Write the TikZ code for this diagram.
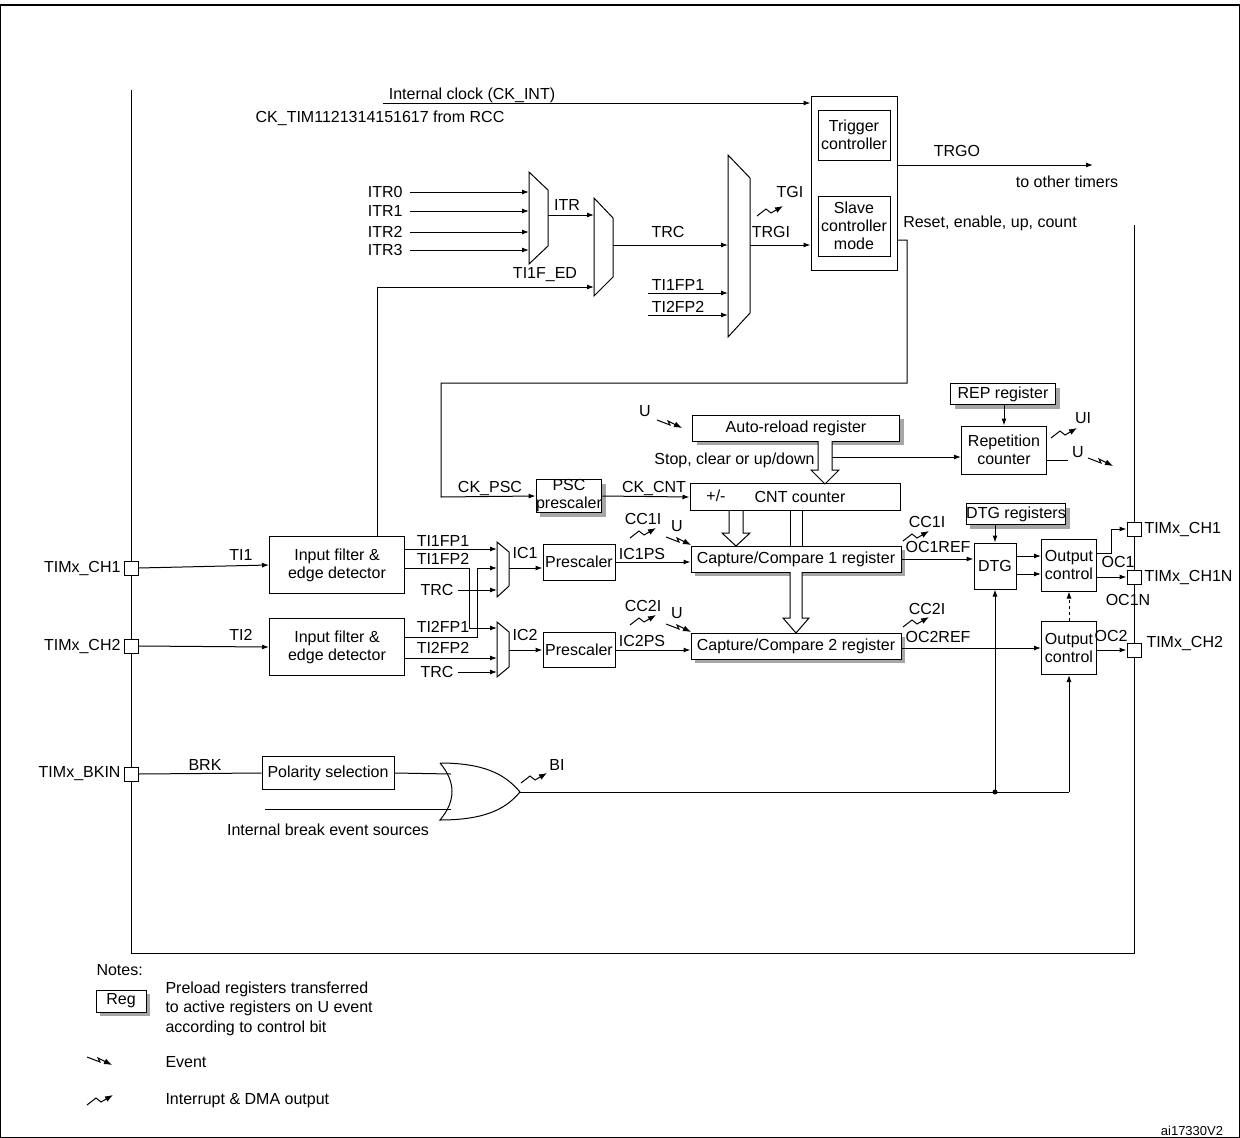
\documentclass[tikz,border=0pt]{standalone}
\usepackage{fontspec}
\setmainfont{Liberation Sans}
\usetikzlibrary{arrows.meta,shadows}
\begin{document}
\begin{tikzpicture}[x=1pt,y=-1pt,line width=1pt,
  font=\fontsize{16}{18}\selectfont,
  >={Latex[length=7pt,width=5pt]},
  box/.style 2 args={draw,fill=white,align=center,inner sep=0pt,minimum width=#1,minimum height=#2},
  reg/.style 2 args={box={#1}{#2},drop shadow={shadow xshift=4pt,shadow yshift=-4pt,fill=black!35,opacity=1}},
  pin/.style={draw,fill=white,minimum size=14pt,inner sep=0pt},
  lbl/.style={inner sep=0pt},
  evt/.pic={\draw[-{Latex[length=8pt,width=6pt]}] (0,0) -- (13,5) -- (11,1) -- (25,8);},
  irq/.pic={\draw[-{Latex[length=8pt,width=6pt]}] (0,0) -- (9,-7) -- (14,-3) -- (26,-10);},
  hollow/.style={draw,fill=white,line width=1pt}]
\useasboundingbox (0,0) rectangle (1240,1138);
\draw[line width=2pt] (0,5) -- (1240,5);
\draw (0.5,5) -- (0.5,1137.5) -- (1239.5,1137.5) -- (1239.5,5);
% main frame
\draw (131,90) -- (131,953) -- (1134,953) -- (1134,225);
% boxes
\node[box={86}{174}] (ts) at (854,183) {};
\node[box={72}{50}] (trig) at (854,135) {Trigger\\controller};
\node[box={72}{60}] (slave) at (854,226) {Slave\\controller\\mode};
\node[reg={207}{26}] (arr) at (796,428) {Auto-reload register};
\node[reg={105}{21}] (rep) at (1003,394) {REP register};
\node[box={85}{48}] (repc) at (1004,450) {Repetition\\counter};
\node[reg={64}{33}] (psc) at (569,496) {PSC\\prescaler};
\node[box={210}{27}] (cnt) at (795,497) {};
\node[lbl] at (716,496) {+/-};
\node[lbl] at (800,497) {CNT counter};
\node[reg={210}{26}] (cc1) at (796,559) {Capture/Compare 1 register};
\node[reg={210}{26}] (cc2) at (796,646) {Capture/Compare 2 register};
\node[box={72}{36}] (pre1) at (579,562) {Prescaler};
\node[box={72}{35}] (pre2) at (579,650) {Prescaler};
\node[box={135}{57}] (f1) at (337,565) {Input filter \&\\edge detector};
\node[box={135}{57}] (f2) at (337,647) {Input filter \&\\edge detector};
\node[box={132}{33}] (pol) at (328,773) {Polarity selection};
\node[reg={90}{21}] (dtgr) at (1016,514) {DTG registers};
\node[box={42}{46}] (dtg) at (995,566) {DTG};
\node[box={55}{52}] (oc1) at (1069,565) {Output\\control};
\node[box={55}{53}] (oc2) at (1069,648) {Output\\control};
% pins
\node[pin] (ch1) at (131,568) {};
\node[pin] (ch2) at (131,646) {};
\node[pin] (bkin) at (131,774) {};
\node[pin] (och1) at (1134,529) {};
\node[pin] (och1n) at (1134,577) {};
\node[pin] (och2) at (1134,650) {};
\node[lbl,anchor=east] at (121,568) {TIMx\_CH1};
\node[lbl,anchor=east] at (121,646) {TIMx\_CH2};
\node[lbl,anchor=east] at (121,774) {TIMx\_BKIN};
\node[lbl,anchor=west] at (1144,529) {TIMx\_CH1};
\node[lbl,anchor=west] at (1144,577) {TIMx\_CH1N};
\node[lbl,anchor=west] at (1146,643) {TIMx\_CH2};
% muxes
\draw (529,172) -- (548,190) -- (548,246) -- (529,264) -- cycle;
\draw (594,198) -- (613,218) -- (613,277) -- (594,296) -- cycle;
\draw (728,155) -- (750,178) -- (750,313) -- (728,337) -- cycle;
\draw (497,542) -- (509,552) -- (509,586) -- (497,597) -- cycle;
\draw (497,622) -- (509,632) -- (509,667) -- (497,677) -- cycle;
% top clock
\coordinate (ckL) at (383,103);
\draw[->] (ckL) -- (ckL -| ts.west);
\node[lbl] at (472,95) {Internal clock (CK\_INT)};
\node[lbl] at (380,118) {CK\_TIM1121314151617 from RCC};
\coordinate (trgoE) at (1093,165);
\draw[->] (trgoE -| ts.east) -- (trgoE);
\node[lbl] at (957,151) {TRGO};
\node[lbl] at (1067,182) {to other timers};
\node[lbl] at (990,223) {Reset, enable, up, count};
% ITR
\foreach \i/\y in {0/192,1/211,2/232,3/250}{
  \node[lbl,anchor=east] (itr\i) at (403,\y) {ITR\i};
  \draw[->] (410,\y) -- (529,\y);
}
\draw[->] (548,215) -- (594,215);
\node[lbl] at (567,205) {ITR};
\draw[->] (613,245) -- (728,245);
\node[lbl] at (668,232) {TRC};
\draw[->] (377,537) -- (377,287) -- (594,287);
\node[lbl] at (545,275) {TI1F\_ED};
\draw[->] (648,293) -- (728,293);
\draw[->] (648,315) -- (728,315);
\node[lbl] at (678,285) {TI1FP1};
\node[lbl] at (678,307) {TI2FP2};
\draw[->] (750,245) -- (ts.west |- 0,245);
\node[lbl] at (771,232) {TRGI};
\pic at (757,216) {irq};
\node[lbl] at (790,192) {TGI};
% slave to prescaler
\draw[->] (897,240) -- (907,240) -- (907,383) -- (441,383) -- (441,497) -- (psc.west);
\node[lbl] at (490,488) {CK\_PSC};
\draw[->] (psc.east) -- (cnt.west);
\node[lbl] at (654,488) {CK\_CNT};
% ARR
\node[lbl] at (645,411) {U};
\pic at (657,420) {evt};
\draw[hollow] (818,441) -- (818,470) -- (811,470) -- (825,484) -- (839,470) -- (832,470) -- (832,441);
\node[lbl,anchor=east] at (815,460) {Stop, clear or up/down};
\draw[->] (832,457) -- (repc.west |- 0,457);
\draw[->] (rep.south -| repc.north) -- (repc.north);
\pic at (1051,438) {irq};
\node[lbl] at (1083,418) {UI};
\draw (repc.east |- 0,460) -- (1068,460);
\node[lbl] at (1078,452) {U};
\pic at (1088,458) {evt};
% CNT to CC
\draw[hollow] (729,511) -- (729,533) -- (722,533) -- (736,546) -- (750,533) -- (743,533) -- (743,511);
\draw (790,511) -- (790,546) (802,511) -- (802,546);
\draw[hollow] (790,572) -- (790,618) -- (783,618) -- (796,633) -- (809,618) -- (802,618) -- (802,572);
% inputs
\draw[->] (ch1.east) -- (f1.west);
\node[lbl] at (241,555) {TI1};
\draw[->] (ch2.east) -- (f2.west);
\node[lbl] at (241,635) {TI2};
\draw[->] (f1.east |- 0,549) -- (497,549);
\draw[->] (f1.east |- 0,568) -- (469,568) -- (469,628) -- (497,628);
\draw[->] (f2.east |- 0,637) -- (477,637) -- (477,568) -- (497,568);
\draw[->] (f2.east |- 0,658) -- (497,658);
\draw[->] (458,590) -- (497,590);
\draw[->] (458,672) -- (497,672);
\node[lbl] at (443,541) {TI1FP1};
\node[lbl] at (443,559) {TI1FP2};
\node[lbl] at (437,590) {TRC};
\node[lbl] at (443,627) {TI2FP1};
\node[lbl] at (443,648) {TI2FP2};
\node[lbl] at (437,672) {TRC};
\draw[->] (509,568) -- (pre1.west |- 0,568);
\node[lbl] at (525,553) {IC1};
\draw[->] (509,650) -- (pre2.west);
\node[lbl] at (525,635) {IC2};
\draw[->] (pre1.east) -- (cc1.west |- pre1.east);
\node[lbl] at (642,554) {IC1PS};
\draw[->] (pre2.east) -- (cc2.west |- pre2.east);
\node[lbl] at (642,641) {IC2PS};
\pic at (630,538) {irq};
\node[lbl] at (643,519) {CC1I};
\node[lbl] at (677,526) {U};
\pic at (666,537) {evt};
\pic at (630,625) {irq};
\node[lbl] at (643,606) {CC2I};
\node[lbl] at (677,613) {U};
\pic at (666,624) {evt};
% outputs
\draw[->] (cc1.east |- 0,559) -- (dtg.west |- 0,559);
\node[lbl] at (938,547) {OC1REF};
\pic at (903,541) {irq};
\node[lbl] at (927,522) {CC1I};
\draw[->] (cc2.east |- 0,648) -- (oc2.west |- 0,648);
\node[lbl] at (938,637) {OC2REF};
\pic at (903,627) {irq};
\node[lbl] at (927,609) {CC2I};
\draw[->] (dtgr.south -| dtg.north) -- (dtg.north);
\draw[->] (dtg.east |- 0,556) -- (oc1.west |- 0,556);
\draw[->] (dtg.east |- 0,574) -- (oc1.west |- 0,574);
\draw[->] (oc1.east |- 0,553) -- (1111,553) -- (1111,529) -- (och1.west);
\draw[->] (oc1.east |- 0,577) -- (och1n.west);
\draw[->] (oc2.east |- 0,650) -- (och2.west);
\draw[->,dashed] (oc2.north) -- (oc1.south);
\node[lbl] at (1118,562) {OC1};
\node[lbl] at (1128,600) {OC1N};
\node[lbl] at (1111,636) {OC2};
% break
\draw (bkin.east) -- (pol.west);
\node[lbl] at (205,765) {BRK};
\coordinate (g1) at (440,763); \coordinate (g2) at (440,820); \coordinate (gt) at (520,792);
\draw (g1) .. controls (456,782) and (456,801) .. (g2) .. controls (490,820) and (508,806) .. (gt) .. controls (508,778) and (490,763) .. (g1);
\draw (pol.east) -- (451,774);
\draw (265,809) -- (451,809);
\node[lbl] at (328,830) {Internal break event sources};
\pic at (521,783) {irq};
\node[lbl] at (557,765) {BI};
\coordinate (bj) at (995,792);
\draw (gt) -- (1069,792);
\fill (bj) circle (2.5pt);
\draw[->] (bj) -- (dtg.south);
\draw[->] (1069,792) -- (oc2.south);
% legend
\node[lbl,anchor=west] at (96,970) {Notes:};
\node[reg={50}{22}] (reglg) at (121,1001) {Reg};
\node[lbl,anchor=north west,align=left,font=\fontsize{16}{19.5}\selectfont] at (165,981) {Preload registers transferred\\to active registers on U event\\according to control bit};
\pic at (87,1057) {evt};
\node[lbl,anchor=west] at (165,1062) {Event};
\pic at (87,1105) {irq};
\node[lbl,anchor=west] at (165,1101) {Interrupt \& DMA output};
\node[lbl,font=\fontsize{13}{15}\selectfont] at (1192,1131) {ai17330V2};
\end{tikzpicture}
\end{document}
